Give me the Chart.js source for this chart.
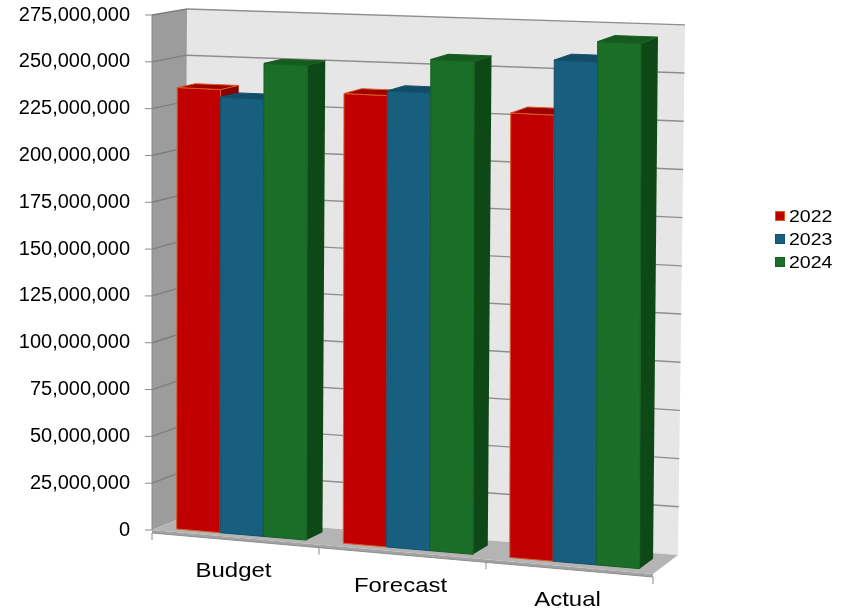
<!DOCTYPE html>
<html>
<head>
<meta charset="utf-8">
<script src="https://cdn.jsdelivr.net/npm/chart.js@4.4.1/dist/chart.umd.min.js"></script>
<style>
  html, body { margin: 0; padding: 0; background: #fff; }
</style>
</head>
<body>
<canvas id="myChart" width="842" height="612"></canvas>
<script>
const categories = ['Budget', 'Forecast', 'Actual'];
const years = ['2022', '2023', '2024'];
const values2022 = [236000000, 237000000, 231000000];
const values2023 = [232000000, 239500000, 259500000];
const values2024 = [251000000, 257000000, 270000000];
const yMax = 275000000;
const yStep = 25000000;

// front, top and side colours of the boxes, one per year
const frontColors = ['#c00000', '#185e7f', '#1b6e28'];
const topColors = ['#9e0000', '#134c67', '#165a20'];
const sideColors = ['#8a0000', '#0f435b', '#0f4817'];
const edgeColors = ['#dc5a1e', '#14506c', '#175e22'];

// fake perspective: floor drops to the right, heights grow a bit, depth goes up-right
const persp = { drop: 44, grow: 0.043, d0: 0.2, d1: 0.73 };

function project(area, xf, yf, d) {
    const f = (xf - area.left) / (area.right - area.left);
    const t = (area.bottom - yf) / (area.bottom - area.top);
    const yFront = area.bottom + persp.drop * f - (area.bottom - yf) * (1 + persp.grow * f);
    const dx = (1 - t) * (32 - 7 * f) + t * (35 - 3 * f);
    const dy = (1 - t) * (-13 - 6 * f) + t * (-6 - 6 * f);
    return [xf + dx * d, yFront + dy * d];
}

function poly(ctx, pts, fill, stroke) {
    ctx.beginPath();
    ctx.moveTo(pts[0][0], pts[0][1]);
    for (let i = 1; i < pts.length; i++) {
        ctx.lineTo(pts[i][0], pts[i][1]);
    }
    ctx.closePath();
    if (fill) {
        ctx.fillStyle = fill;
        ctx.fill();
    }
    if (stroke) {
        ctx.strokeStyle = stroke;
        ctx.lineWidth = 1;
        ctx.stroke();
    }
}

function line(ctx, p, q, color, width) {
    ctx.beginPath();
    ctx.moveTo(p[0], p[1]);
    ctx.lineTo(q[0], q[1]);
    ctx.strokeStyle = color;
    ctx.lineWidth = width;
    ctx.stroke();
}

function drawWalls(chart) {
    const ctx = chart.ctx;
    const a = chart.chartArea;
    const ys = chart.scales.y;
    const xs = chart.scales.x;
    const P = (x, y, d) => project(a, x, y, d);

    // back wall and left wall
    poly(ctx, [P(a.left, a.top, 1), P(a.right, a.top, 1), P(a.right, a.bottom, 1), P(a.left, a.bottom, 1)], '#e6e6e6');
    poly(ctx, [P(a.left, a.top, 0), P(a.left, a.top, 1), P(a.left, a.bottom, 1), P(a.left, a.bottom, 0)], '#9c9c9c');

    ys.ticks.forEach((tk) => {
        if (tk.value === 0) return;
        const y = ys.getPixelForValue(tk.value);
        line(ctx, P(a.left, y, 1), P(a.right, y, 1), '#8e8e8e', 1.4);
        line(ctx, P(a.left, y, 0), P(a.left, y, 1), '#7e7e7e', 1.4);
        const p = P(a.left, y, 0);
        line(ctx, [p[0] - 7, p[1]], p, '#8a8a8a', 1);
    });

    // floor with a thin front edge
    const f0 = P(a.left, a.bottom, 0);
    const f1 = P(a.right, a.bottom, 0);
    poly(ctx, [f0, f1, [f1[0], f1[1] + 3], [f0[0], f0[1] + 3]], '#a2a2a2');
    poly(ctx, [f0, f1, P(a.right, a.bottom, 1), P(a.left, a.bottom, 1)], '#b4b4b4');
    line(ctx, [f0[0], f0[1] + 3], [f1[0], f1[1] + 3], '#8e8e8e', 1);
    line(ctx, [f0[0] - 7, f0[1]], f0, '#8a8a8a', 1);

    // front axis edge
    line(ctx, P(a.left, a.top, 0), f0, '#8a8a8a', 1);

    // category ticks
    for (let j = 0; j <= categories.length; j++) {
        const xb = xs.getPixelForValue(j - 0.5);
        const p = P(xb, a.bottom, 0);
        line(ctx, [p[0], p[1] + 3], [p[0], p[1] + 10], '#8a8a8a', 1);
    }
}

function drawBars(chart) {
    const ctx = chart.ctx;
    const a = chart.chartArea;
    const P = (x, y, d) => project(a, x, y, d);
    const d0 = persp.d0;
    const d1 = persp.d1;

    categories.forEach((c, j) => {
        chart.data.datasets.forEach((ds, i) => {
            const el = chart.getDatasetMeta(i).data[j];
            const { x, y, base, width } = el.getProps(['x', 'y', 'base', 'width'], true);
            const l = x - width / 2;
            const r = x + width / 2;
            poly(ctx, [P(r, y, d0), P(r, y, d1), P(r, base, d1), P(r, base, d0)], sideColors[i]);
            poly(ctx, [P(l, y, d0), P(r, y, d0), P(r, base, d0), P(l, base, d0)], frontColors[i], edgeColors[i]);
            poly(ctx, [P(l, y, d0), P(r, y, d0), P(r, y, d1), P(l, y, d1)], topColors[i], edgeColors[i]);
        });
    });
}

function drawLabels(chart) {
    const ctx = chart.ctx;
    const a = chart.chartArea;
    const xs = chart.scales.x;
    ctx.save();
    ctx.fillStyle = '#000';
    ctx.font = '21px "Liberation Sans", Arial, sans-serif';
    ctx.textAlign = 'center';
    ctx.textBaseline = 'middle';
    categories.forEach((c, j) => {
        const xc = xs.getPixelForValue(j);
        const f = (xc - a.left) / (a.right - a.left);
        const yc = a.bottom + persp.drop * f + 34;
        ctx.save();
        ctx.translate(xc - 2, yc);
        ctx.scale(1.14, 1);
        ctx.fillText(c, 0, 0);
        ctx.restore();
    });
    ctx.restore();
}

function drawLegend(chart) {
    const ctx = chart.ctx;
    ctx.save();
    chart.data.datasets.forEach((ds, i) => {
        const y = 216 + i * 23;
        ctx.fillStyle = ds.backgroundColor;
        ctx.fillRect(775, y - 5, 10, 10);
        ctx.strokeStyle = ds.borderColor;
        ctx.lineWidth = 1;
        ctx.strokeRect(775.5, y - 4.5, 9, 9);
        ctx.save();
        ctx.translate(789, y);
        ctx.scale(1.15, 1);
        ctx.fillStyle = '#000';
        ctx.font = '17px "Liberation Sans", Arial, sans-serif';
        ctx.textBaseline = 'middle';
        ctx.fillText(ds.label, 0, 1);
        ctx.restore();
    });
    ctx.restore();
}

const box3d = {
    id: 'box3d',
    beforeDatasetsDraw(chart) {
        drawWalls(chart);
        drawBars(chart);
        return false;
    },
    afterDraw(chart) {
        drawLabels(chart);
        drawLegend(chart);
    }
};

const seriesValues = [values2022, values2023, values2024];
const datasets = years.map((yr, i) => ({
    label: yr,
    data: seriesValues[i],
    backgroundColor: frontColors[i],
    borderColor: edgeColors[i],
    barPercentage: 1,
    categoryPercentage: 0.78
}));

const ctx = document.getElementById('myChart').getContext('2d');
const myChart = new Chart(ctx, {
    type: 'bar',
    data: {
        labels: categories,
        datasets: datasets
    },
    options: {
        responsive: false,
        animation: false,
        devicePixelRatio: 1,
        layout: {
            padding: { left: 0, right: 189, top: 15, bottom: 82 }
        },
        plugins: {
            legend: { display: false },
            tooltip: { enabled: false }
        },
        scales: {
            x: {
                display: false,
                offset: true
            },
            y: {
                min: 0,
                max: yMax,
                afterFit(scale) {
                    scale.width = 152;
                },
                grid: { display: false, drawTicks: true, tickLength: 20 },
                border: { display: false },
                ticks: {
                    stepSize: yStep,
                    padding: 2,
                    color: '#000',
                    font: { family: '"Liberation Sans", Arial, sans-serif', size: 20 },
                    callback: (v) => v.toLocaleString('en-US')
                }
            }
        }
    },
    plugins: [box3d]
});
</script>
</body>
</html>
